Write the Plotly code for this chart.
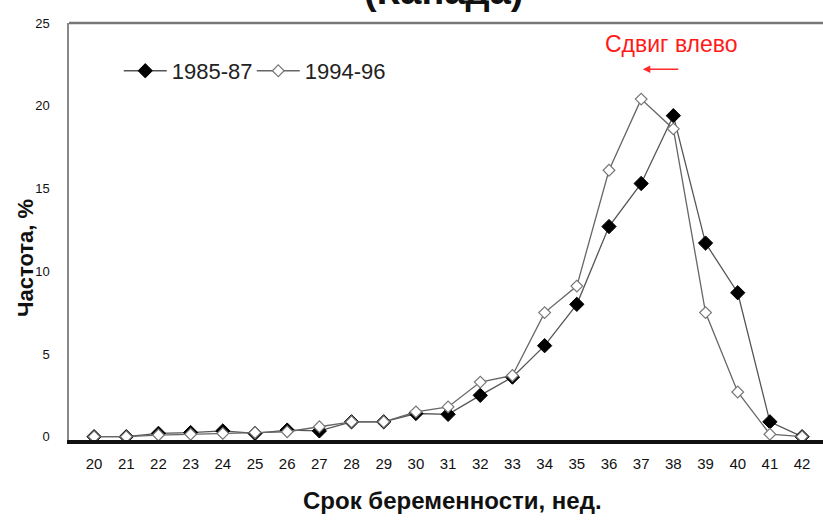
import plotly.graph_objects as go

weeks = list(range(20, 43))
tick_labels = [str(w) for w in weeks]
s1985 = [0, 0, 0.2, 0.25, 0.35, 0.2, 0.4, 0.35, 0.9, 0.9, 1.4, 1.35, 2.5, 3.6, 5.5, 8.0, 12.7, 15.3, 19.4, 11.7, 8.7, 0.9, 0]
s1994 = [0, 0, 0.1, 0.15, 0.2, 0.25, 0.3, 0.6, 0.9, 0.9, 1.5, 1.8, 3.3, 3.7, 7.5, 9.1, 16.1, 20.4, 18.6, 7.5, 2.7, 0.15, 0]
name1 = "1985-87"
name2 = "1994-96"
y_ticks = [0, 5, 10, 15, 20, 25]

FONT = "Liberation Sans Narrow, Arial Narrow, Liberation Sans, Arial, sans-serif"

fig = go.Figure()
fig.add_trace(go.Scatter(
    x=weeks, y=s1985, name=name1, mode="lines+markers", legend="legend",
    line=dict(color="#555555", width=1.3),
    marker=dict(symbol="diamond", size=11, color="black", line=dict(color="black", width=1)),
))
fig.add_trace(go.Scatter(
    x=weeks, y=s1994, name=name2, mode="lines+markers", legend="legend2",
    line=dict(color="#666666", width=1.3),
    marker=dict(symbol="diamond", size=9, color="white", line=dict(color="#777777", width=1.2)),
))

legend_common = dict(
    orientation="h", yanchor="middle", xanchor="left", y=0.885,
    font=dict(size=22, color="#222222", family=FONT),
    bgcolor="rgba(0,0,0,0)", itemwidth=43,
)

fig.update_layout(
    width=823, height=520,
    margin=dict(l=69, r=0, t=23, b=80),
    paper_bgcolor="white", plot_bgcolor="white",
    font=dict(family=FONT, color="#222222"),
    showlegend=True,
    legend=dict(x=0.066, **legend_common),
    legend2=dict(x=0.066 + (258 - 125) / 754, **legend_common),
    xaxis=dict(
        range=[19.22, 42.65], tickmode="array", tickvals=weeks, ticktext=tick_labels,
        showgrid=False, zeroline=False, showline=True, linecolor="#111111", linewidth=4,
        ticks="", ticklabelstandoff=7, automargin=False,
        tickfont=dict(size=15, color="#111111", family=FONT),
    ),
    yaxis=dict(
        range=[-0.2, 25], tickmode="array", tickvals=y_ticks,
        showgrid=False, zeroline=False, showline=True, linecolor="#888888", linewidth=1.5,
        ticks="", ticklabelstandoff=15, automargin=False,
        tickfont=dict(size=13, color="#111111", family=FONT),
    ),
)

# top border
fig.add_shape(type="line", xref="paper", yref="paper", x0=0, x1=1, y0=1, y1=1,
              line=dict(color="#777777", width=2.5))

# axis titles
fig.add_annotation(text="<b>Срок беременности, нед.</b>", xref="paper", yref="paper",
                   x=(452 - 69) / 754, y=-(500 - 440) / 417, xanchor="center", yanchor="middle",
                   showarrow=False, font=dict(size=24, color="#111111", family=FONT))
fig.add_annotation(text="<b>Частота, %</b>", xref="paper", yref="paper",
                   x=-(69 - 25) / 754, y=(440 - 258) / 417, xanchor="center", yanchor="middle",
                   textangle=-90, showarrow=False, font=dict(size=22, color="#111111", family=FONT))

# partially visible title
fig.add_annotation(text="<b>(Канада)</b>", xref="paper", yref="paper", x=(443 - 69) / 754, y=1.021,
                   xanchor="center", yanchor="bottom", showarrow=False,
                   font=dict(size=38, color="#111111", family=FONT))

# red annotation
fig.add_annotation(text="Сдвиг влево", xref="x", yref="y", x=37.95, y=23.75,
                   showarrow=False, font=dict(size=23, color="#ff1a1a", family=FONT))
fig.add_annotation(text="", xref="x", yref="y", axref="x", ayref="y",
                   x=37.05, y=22.2, ax=38.2, ay=22.2, showarrow=True,
                   arrowhead=2, arrowsize=1, arrowwidth=1.5, arrowcolor="#ff2a2a")

fig.write_html("out.html", config={"displayModeBar": False},
               post_script="document.body.style.margin='0';document.body.style.overflow='hidden';")
